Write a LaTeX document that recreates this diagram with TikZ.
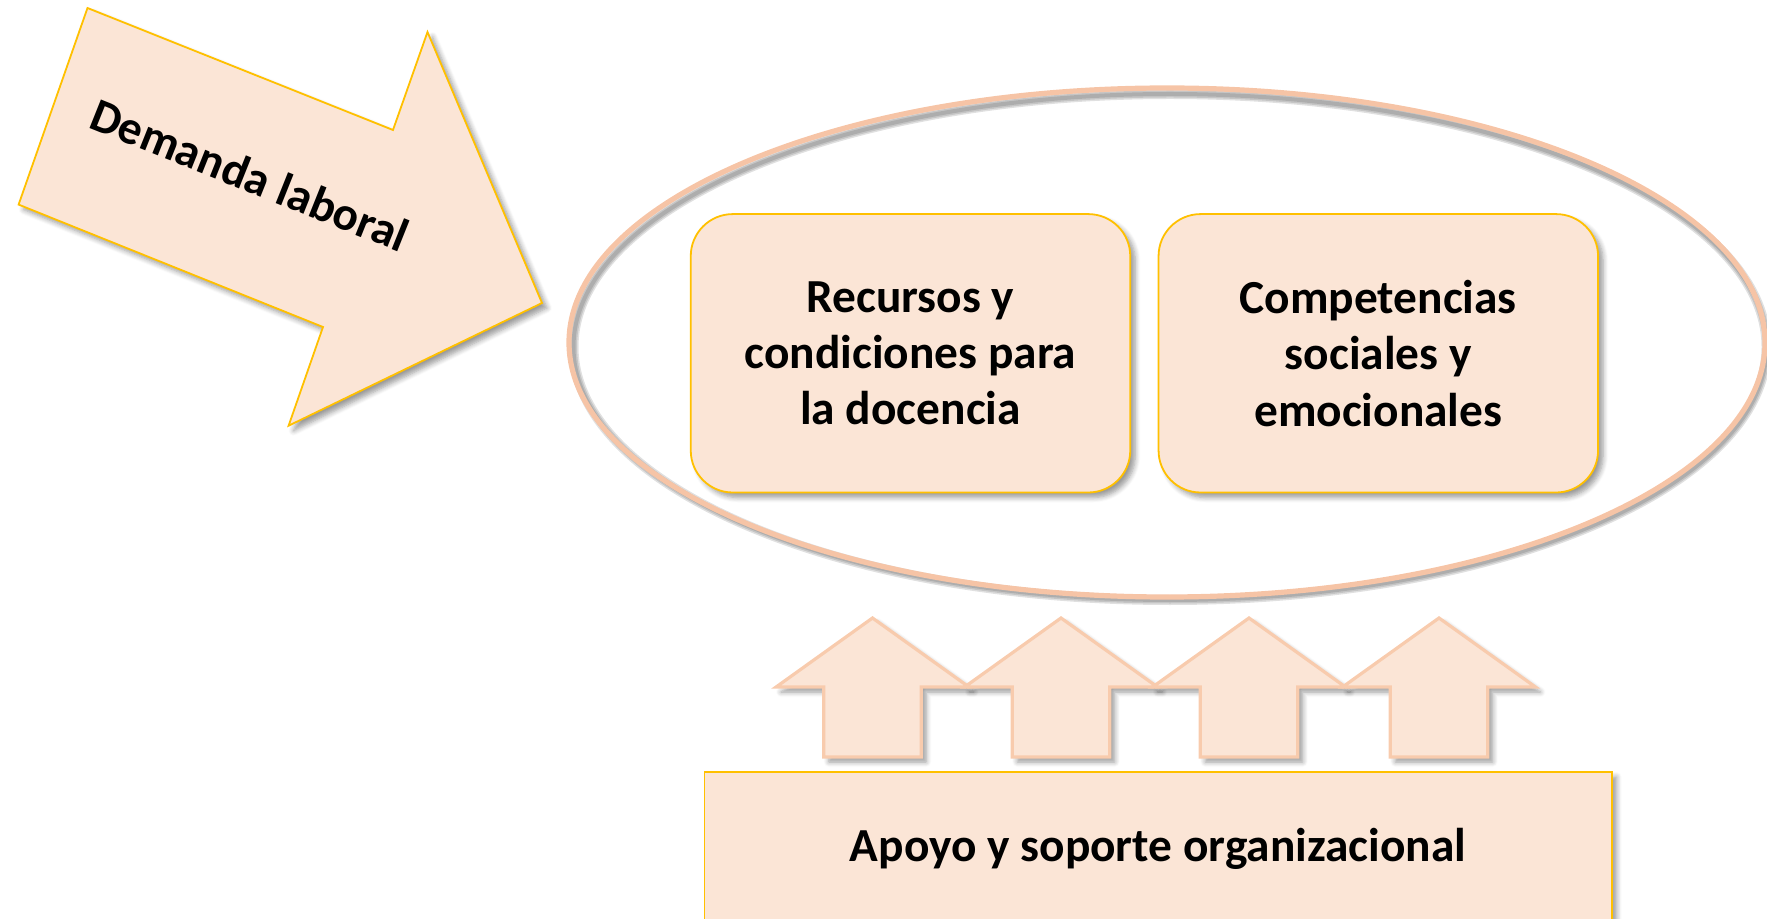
\documentclass[tikz,border=0pt]{standalone}
\usepackage{fontspec}
\setmainfont{Carlito}
\usetikzlibrary{shadows.blur,shapes.geometric}
\definecolor{peach}{HTML}{FBE5D6}
\definecolor{gold}{HTML}{FFC000}
\definecolor{salmon}{HTML}{F8CBAD}
\definecolor{ringcol}{HTML}{F6C4A6}
\begin{document}
\begin{tikzpicture}[x=0.5pt,y=-0.5pt,
  lbl/.style={font=\fontsize{23.7}{28.15}\selectfont\bfseries, text=black, align=center},
  softshadow/.style={blur shadow={shadow xshift=2.5pt, shadow yshift=-2.5pt, shadow blur steps=6, shadow opacity=40, shadow blur radius=2.5pt}},
  goldbox/.style={fill=peach, draw=gold, line width=0.9pt, softshadow},
  roundbox/.style={goldbox, rectangle, rounded corners=21pt, minimum width=219.75pt, minimum height=139.2pt, inner sep=0pt},
  uparrow/.style={fill=peach, draw=salmon, line width=1.6pt, line join=miter, softshadow},
  ring/.style={ellipse, draw=ringcol, line width=2.6pt, minimum width=598pt, minimum height=254.5pt, inner sep=0pt},
  ringshadow/.style={black, line width=#1, opacity=0.12}
]
\useasboundingbox (0,0) rectangle (1767,919);

% big arrow "Demanda laboral"
\draw[goldbox, line join=miter] (87.5,8) -- (393,130) -- (427.5,32) -- (542,303) -- (288.6,425.7) -- (323,327) -- (18.6,204.6) -- cycle;
\node[lbl, rotate=-21.8] (dem) at (250,175) {Demanda laboral};

% ellipse with its soft shadow
\draw[ringshadow=5pt] (1170,347) ellipse [x radius=596.5, y radius=253];
\draw[ringshadow=3.5pt] (1170,347) ellipse [x radius=596.5, y radius=253];
\draw[ringshadow=2pt] (1170,347) ellipse [x radius=596.5, y radius=253];
\node[ring] (ell) at (1167,342.5) {};

% two rounded boxes
\node[roundbox, lbl] (rec) at (910.5,353.3) {Recursos y\\condiciones para\\la docencia};
\node[roundbox, lbl] (comp) at (1378.3,353.3) {Competencias\\sociales y\\emocionales};

% four up arrows
\foreach \cx in {872.5,1061,1249,1439}{
  \draw[uparrow] (\cx,618) -- (\cx+96.4,687) -- (\cx+48.7,687) -- (\cx+48.7,757)
     -- (\cx-48.7,757) -- (\cx-48.7,687) -- (\cx-96.4,687) -- cycle;
}

% bottom box
\node[goldbox, lbl, rectangle, minimum width=453.6pt, minimum height=77pt, inner sep=0pt] (apoyo) at (1158,849) {Apoyo y soporte organizacional};
\end{tikzpicture}
\end{document}
